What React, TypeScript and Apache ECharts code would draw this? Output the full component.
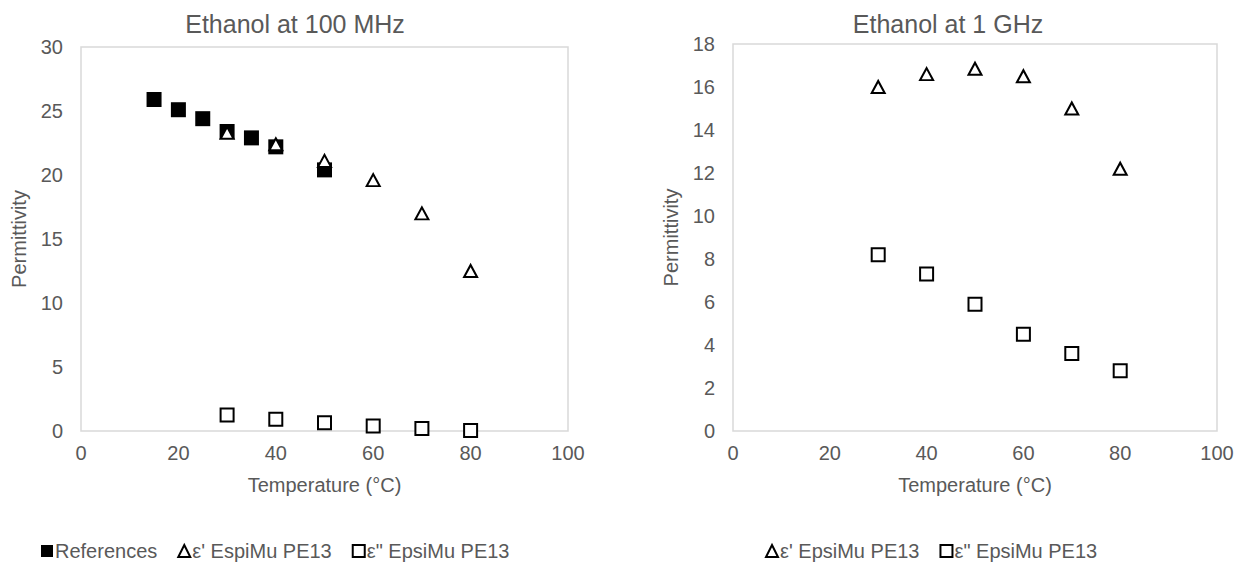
import React, { useEffect, useRef } from "react";
import * as echarts from "echarts";

const refTemps = [15, 20, 25, 30, 35, 40, 50];
const refValues = [25.9, 25.1, 24.4, 23.4, 22.9, 22.2, 20.4];

const epsTemps = [30, 40, 50, 60, 70, 80];
const eps1At100MHz = [23.3, 22.4, 21.1, 19.6, 17.0, 12.5];
const eps2At100MHz = [1.25, 0.92, 0.65, 0.4, 0.2, 0.03];

const eps1At1GHz = [16.0, 16.6, 16.85, 16.5, 15.0, 12.2];
const eps2At1GHz = [8.2, 7.3, 5.9, 4.5, 3.6, 2.8];

const titleLeft = "Ethanol at 100 MHz";
const titleRight = "Ethanol at 1 GHz";
const xName = "Temperature (°C)";
const yName = "Permittivity";
const nameRef = "References";
const nameEps1Left = "ε' EspiMu PE13";
const nameEps1Right = "ε' EpsiMu PE13";
const nameEps2 = 'ε" EpsiMu PE13';

const FONT = "'Liberation Sans', Arial, sans-serif";
const GRAY = "#595959";

const zip = (xs: number[], ys: number[]) => xs.map((x, i) => [x, ys[i]]);

export default function App() {
  const ref = useRef<HTMLDivElement>(null);
  useEffect(() => {
    if (!ref.current) return;
    const chart = echarts.init(ref.current, undefined, { renderer: "svg" });
    const hollow = { color: "#ffffff", borderColor: "#000000", borderWidth: 2, opacity: 1 };
    const xAxisBase = {
      type: "value",
      min: 0,
      max: 100,
      interval: 20,
      axisLine: { show: false },
      axisTick: { show: false },
      splitLine: { show: false },
      axisLabel: { color: GRAY, fontSize: 20, fontFamily: FONT, margin: 12 },
      name: xName,
      nameLocation: "middle",
      nameGap: 44,
      nameTextStyle: { color: GRAY, fontSize: 20, fontFamily: FONT },
    };
    const yAxisBase = {
      type: "value",
      min: 0,
      axisLine: { show: false },
      axisTick: { show: false },
      splitLine: { show: false },
      axisLabel: { color: GRAY, fontSize: 20, fontFamily: FONT, margin: 18 },
      name: yName,
      nameLocation: "middle",
      nameGap: 52,
      nameTextStyle: { color: GRAY, fontSize: 20, fontFamily: FONT },
    };
    const legendBase = {
      orient: "horizontal",
      itemWidth: 12,
      itemHeight: 12,
      itemGap: 20,
      textStyle: { color: GRAY, fontSize: 20, fontFamily: FONT, padding: [0, 0, 0, -3] },
      selectedMode: false,
    };
    chart.setOption({
      animation: false,
      backgroundColor: "#ffffff",
      title: [
        {
          text: titleLeft,
          left: 290,
          top: 6,
          textAlign: "center",
          textStyle: { color: GRAY, fontSize: 25, fontWeight: "normal", fontFamily: FONT },
        },
        {
          text: titleRight,
          left: 943,
          top: 6,
          textAlign: "center",
          textStyle: { color: GRAY, fontSize: 25, fontWeight: "normal", fontFamily: FONT },
        },
      ],
      grid: [
        { left: 81, top: 47, width: 487, height: 384, show: true, borderColor: "#d9d9d9", borderWidth: 1.5 },
        { left: 733, top: 44, width: 484, height: 387, show: true, borderColor: "#d9d9d9", borderWidth: 1.5 },
      ],
      xAxis: [
        { ...xAxisBase, gridIndex: 0 },
        { ...xAxisBase, gridIndex: 1 },
      ],
      yAxis: [
        { ...yAxisBase, gridIndex: 0, max: 30, interval: 5 },
        { ...yAxisBase, gridIndex: 1, max: 18, interval: 2 },
      ],
      legend: [
        {
          ...legendBase,
          left: 36,
          top: 536,
          data: [
            { name: nameRef, icon: "rect" },
            { name: nameEps1Left, icon: "triangle" },
            { name: nameEps2, icon: "rect" },
          ],
        },
        {
          ...legendBase,
          left: 760,
          top: 536,
          data: [
            { name: nameEps1Right, icon: "triangle" },
            { name: nameEps2, icon: "rect" },
          ],
        },
      ],
      series: [
        {
          name: nameRef,
          type: "scatter",
          xAxisIndex: 0,
          yAxisIndex: 0,
          symbol: "rect",
          symbolSize: 15,
          itemStyle: { color: "#000000", opacity: 1 },
          data: zip(refTemps, refValues),
        },
        {
          name: nameEps1Left,
          type: "scatter",
          xAxisIndex: 0,
          yAxisIndex: 0,
          symbol: "triangle",
          symbolSize: [13, 12],
          itemStyle: hollow,
          data: zip(epsTemps, eps1At100MHz),
        },
        {
          name: nameEps2,
          type: "scatter",
          xAxisIndex: 0,
          yAxisIndex: 0,
          symbol: "rect",
          symbolSize: 13,
          itemStyle: hollow,
          data: zip(epsTemps, eps2At100MHz),
        },
        {
          name: nameEps1Right,
          type: "scatter",
          xAxisIndex: 1,
          yAxisIndex: 1,
          symbol: "triangle",
          symbolSize: [13, 12],
          itemStyle: hollow,
          data: zip(epsTemps, eps1At1GHz),
        },
        {
          name: nameEps2,
          type: "scatter",
          xAxisIndex: 1,
          yAxisIndex: 1,
          symbol: "rect",
          symbolSize: 13,
          itemStyle: hollow,
          data: zip(epsTemps, eps2At1GHz),
        },
      ],
    });
    return () => chart.dispose();
  }, []);
  return (
    <div
      ref={ref}
      style={{ position: "absolute", left: 0, top: 0, width: 1249, height: 567, background: "#fff" }}
    />
  );
}
